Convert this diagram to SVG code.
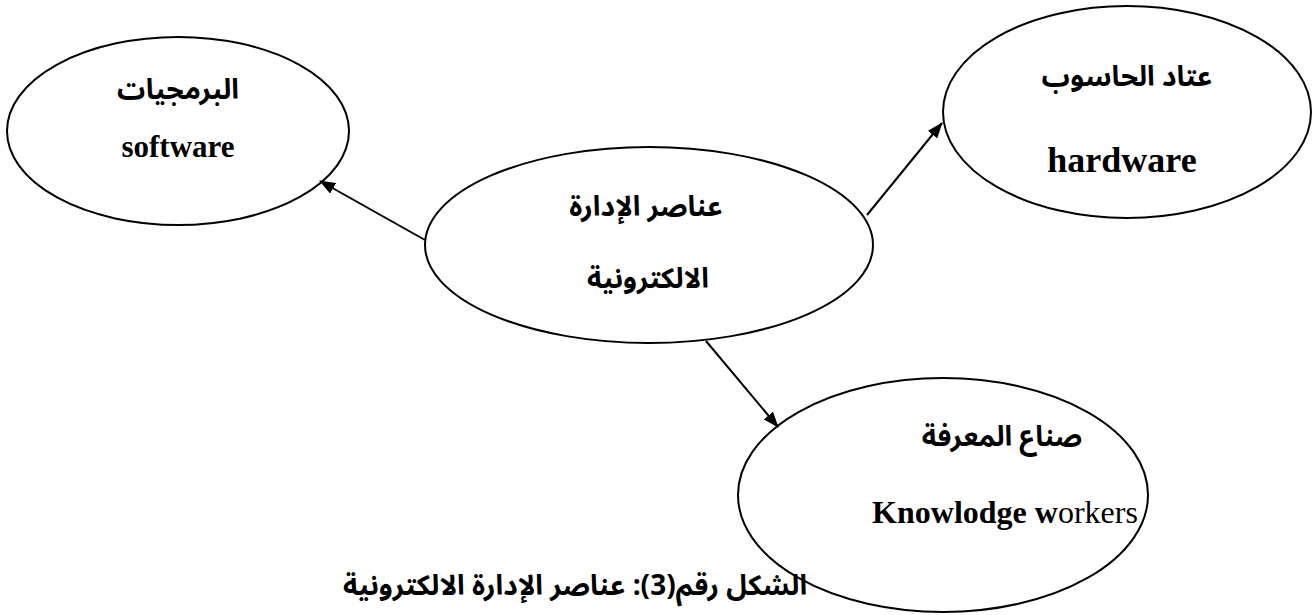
<svg xmlns="http://www.w3.org/2000/svg" width="1312" height="615" viewBox="0 0 1312 615">
<style>
.node ellipse{fill:#fff;stroke:#000;stroke-width:2}
.ar{font-family:"Noto Sans Arabic","DejaVu Sans",sans-serif;font-weight:bold;font-size:28px;fill:#000;text-anchor:middle}
.en{font-family:"Liberation Serif",serif;font-weight:bold;font-size:31px;fill:#000;text-anchor:middle}
.conn line{stroke:#000;stroke-width:2;marker-end:url(#ah)}
</style>
<defs>
<marker id="ah" markerWidth="16" markerHeight="12" refX="15" refY="6" orient="auto" markerUnits="userSpaceOnUse">
<path d="M0,0 L16,6 L0,12 Z" fill="#000"/>
</marker>
</defs>
<rect width="1312" height="615" fill="#fff"/>
<g id="software" class="node">
<ellipse cx="178" cy="131" rx="171" ry="94"/>
<text class="ar" x="178" y="99" direction="rtl">البرمجيات</text>
<text class="en" x="178" y="157">software</text>
</g>
<g id="hardware" class="node">
<ellipse cx="1127" cy="112" rx="184" ry="106"/>
<text class="ar" x="1127" y="86" direction="rtl">عتاد الحاسوب</text>
<text class="en" x="1122" y="172" style="font-size:36px">hardware</text>
</g>
<g id="knowledge" class="node">
<ellipse cx="943" cy="495" rx="205" ry="117"/>
<text class="ar" x="1002" y="446" direction="rtl">صناع المعرفة</text>
<text class="en" x="1005" y="523" style="font-weight:normal;font-size:32px"><tspan style="font-weight:bold">Knowlodge w</tspan>orkers</text>
</g>
<g id="center" class="node">
<ellipse cx="649" cy="245" rx="224" ry="98"/>
<text class="ar" x="646" y="216" direction="rtl">عناصر الإدارة</text>
<text class="ar" x="648" y="288" direction="rtl">الالكترونية</text>
</g>
<g id="connectors" class="conn">
<line x1="425" y1="240" x2="320" y2="181"/>
<line x1="867" y1="215" x2="942" y2="123"/>
<line x1="706" y1="341" x2="778" y2="427"/>
</g>
<g id="caption">
<text class="ar" x="575" y="595" direction="rtl">الشكل رقم(3): عناصر الإدارة الالكترونية</text>
</g>
</svg>
